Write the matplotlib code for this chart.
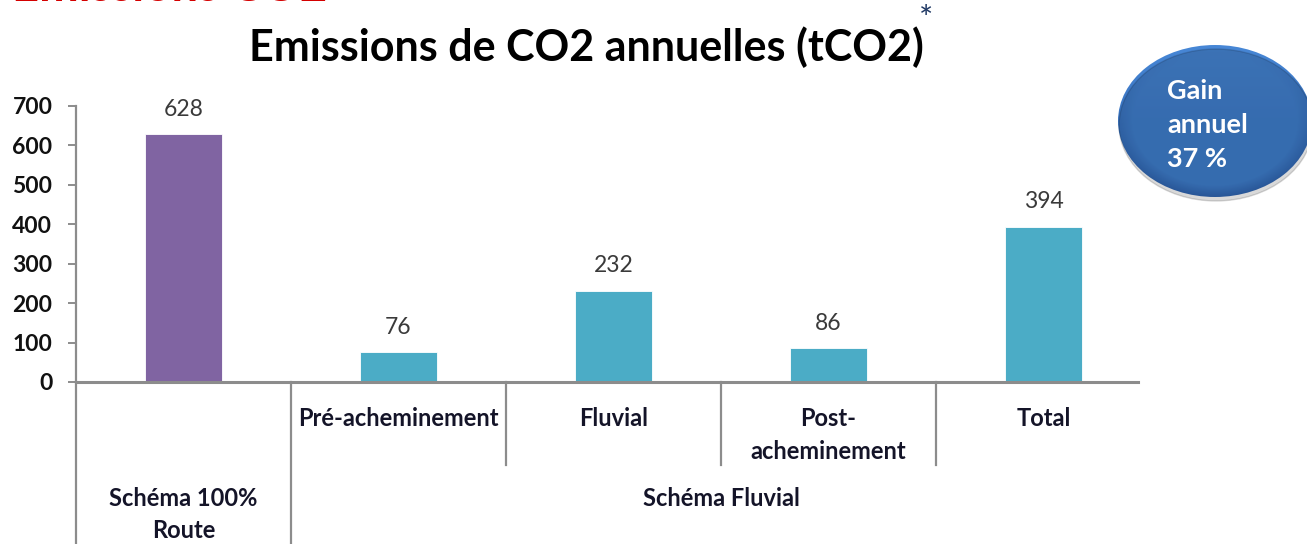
import matplotlib.pyplot as plt
import numpy as np
from matplotlib.patches import Ellipse

plt.rcParams['font.family'] = ['Lato', 'DejaVu Sans']

# data
values = [628, 76, 232, 86, 394]
level1_labels = ['', 'Pré-acheminement', 'Fluvial', 'Post-\nacheminement', 'Total']
groups = [('Schéma 100%\nRoute', 0, 0), ('Schéma Fluvial', 1, 4)]
bar_colors = ['#8064a2', '#4bacc6', '#4bacc6', '#4bacc6', '#4bacc6']
yticks = [0, 100, 200, 300, 400, 500, 600, 700]

W, H = 1307, 544
grey = '#8c8c8c'
dark = '#141428'

fig = plt.figure(figsize=(W / 100, H / 100), dpi=100)
ax = fig.add_axes([76 / W, (H - 382) / H, 1075 / W, 276 / H])

x = np.arange(len(values))
ax.bar(x, values, width=0.36, color=bar_colors, edgecolor='white', linewidth=0.6, zorder=2)
for xi, v in zip(x, values):
    ax.annotate(str(v), (xi, v), xytext=(0, 18), textcoords='offset points',
                ha='center', va='center', fontsize=16.5, color='#3a3a3a')

ax.set_xlim(-0.5, 4.5)
ax.set_ylim(0, 700)
ax.set_yticks(yticks)
ax.set_xticks([])
for s in ['top', 'right', 'bottom']:
    ax.spines[s].set_visible(False)
ax.spines['left'].set_color(grey)
ax.spines['left'].set_linewidth(1.6)
ax.tick_params(axis='y', direction='out', length=6, width=1.4, color=grey,
               labelsize=16.5, pad=11, labelcolor='#111111')
for lbl in ax.get_yticklabels():
    lbl.set_fontweight('bold')

# category axis (two levels)
xt = ax.get_xaxis_transform()
ax.plot([-0.5, 4.44], [0, 0], color=grey, lw=2.2, transform=xt, clip_on=False, zorder=3)
ax.plot([-0.5, -0.5], [0, -0.6], color=grey, lw=1.6, transform=xt, clip_on=False)
ax.plot([0.5, 0.5], [0, -0.6], color=grey, lw=1.6, transform=xt, clip_on=False)
for sx in [1.5, 2.5, 3.5]:
    ax.plot([sx, sx], [0, -0.30], color=grey, lw=1.6, transform=xt, clip_on=False)

for xi, lab in zip(x, level1_labels):
    ax.text(xi, -0.092, lab, transform=xt, ha='center', va='top', fontsize=17,
            fontweight='bold', color=dark, linespacing=1.5)
for lab, a, b in groups:
    ax.text((a + b) / 2, -0.38, lab, transform=xt, ha='center', va='top', fontsize=17,
            fontweight='bold', color=dark, linespacing=1.5)

# titles
fig.text(12 / W, 1 - 1 / H, 'Emissions CO2', ha='left', va='baseline',
         fontsize=34, fontweight='bold', color='#d40000')
fig.text(586 / W, 1 - 47 / H, 'Emissions de CO2 annuelles (tCO2)', ha='center',
         va='center', fontsize=31, fontweight='bold', color='#000000')
fig.text(926 / W, 1 - 20 / H, '*', ha='center', va='center', fontsize=24, color='#1f3864')

# "gain" bubble
bx, by, bw, bh = 1118, 45, 194, 152
shadow = Ellipse(((bx + bw / 2 + 1) / W, 1 - (by + bh / 2 + 4) / H), bw / W, bh / H,
                 transform=fig.transFigure, color='#000000', alpha=0.15, zorder=0)
fig.patches.append(shadow)
bax = fig.add_axes([bx / W, 1 - (by + bh) / H, bw / W, bh / H])
bax.set_axis_off()
gx, gy = np.meshgrid(np.linspace(-1, 1, 200), np.linspace(1, -1, 200))
r = np.clip(np.sqrt(gx ** 2 + gy ** 2), 0, 1)
c0 = np.array([0.25, 0.50, 0.81])
c1 = np.array([0.19, 0.40, 0.70])
t = np.clip((r - 0.85) / 0.15, 0, 1) * np.clip(0.5 - 0.5 * gy, 0, 1)
img = c0[None, None, :] * (1 - t[..., None]) + c1[None, None, :] * t[..., None]
img = img + 0.03 * np.clip(gy, 0, 1)[..., None]
im = bax.imshow(np.clip(img, 0, 1), extent=(0, 1, 0, 1), aspect='auto')
clip = Ellipse((0.5, 0.5), 1, 1, transform=bax.transAxes)
im.set_clip_path(clip)
bax.set_xlim(0, 1)
bax.set_ylim(0, 1)
fig.text(1167 / W, 1 - 125 / H, 'Gain\nannuel\n37 %', ha='left', va='center',
         fontsize=19.5, fontweight='bold', color='white', linespacing=1.5)

fig.savefig('out.png', dpi=100)
